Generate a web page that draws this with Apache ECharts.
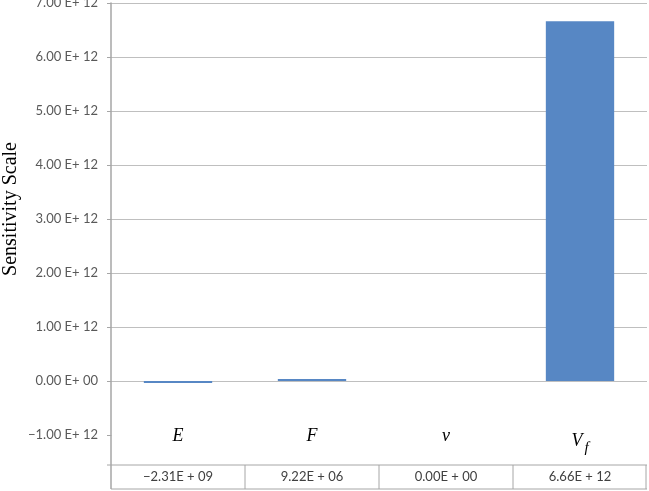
<!DOCTYPE html>
<html>
<head>
<meta charset="utf-8">
<script src="https://cdn.jsdelivr.net/npm/echarts@6/dist/echarts.min.js"></script>
<style>
    html, body { margin: 0; padding: 0; background: #fff; }
    #chart { width: 649px; height: 491px; }
</style>
</head>
<body>
<div id="chart"></div>
<script>
    // data
    const categories = ['E', 'F', 'ν', 'V_f'];
    const sensitivity = [-2.31e9, 9.22e6, 0, 6.66e12];
    const yMin = -1e12;
    const yMax = 7e12;
    const yStep = 1e12;

    const barColor = '#5787c4';
    const lineGray = '#a6a6a6';
    const gridGray = '#bfbfbf';

    function sci(v) {
        if (v === 0) return { neg: false, m: '0.00', sign: '+', exp: '00' };
        let parts = Math.abs(v).toExponential(2).split('e');
        let e = parseInt(parts[1], 10);
        return { neg: v < 0, m: parts[0], sign: e < 0 ? '-' : '+', exp: String(Math.abs(e)).padStart(2, '0') };
    }
    function axisText(v) {
        let s = sci(v);
        return (s.neg ? '−' : '') + s.m + ' E' + s.sign + ' ' + s.exp;
    }
    function tableText(v) {
        let s = sci(v);
        return (s.neg ? '−' : '') + s.m + 'E ' + s.sign + ' ' + s.exp;
    }

    let chart = echarts.init(document.getElementById('chart'));
    let option = {
        animation: false,
        grid: { left: 111, right: 2, top: 3, bottom: 56, outerBoundsMode: 'none' },
        xAxis: {
            type: 'category',
            data: categories,
            axisLine: { show: false, onZero: false },
            axisTick: { show: false },
            axisLabel: {
                margin: -8,
                formatter: function (v) {
                    let p = v.split('_');
                    return p.length > 1 ? '{i|' + p[0] + '}{sub|' + p[1] + '}' : '{i|' + v + '}';
                },
                rich: {
                    i: { fontFamily: 'Liberation Serif', fontStyle: 'italic', fontSize: 18, color: '#000' },
                    sub: { fontFamily: 'Liberation Serif', fontStyle: 'italic', fontSize: 15, color: '#000', padding: [14, 0, 0, 2], verticalAlign: 'bottom' }
                }
            }
        },
        yAxis: {
            type: 'value',
            min: yMin,
            max: yMax,
            interval: yStep,
            name: 'Sensitivity Scale',
            nameLocation: 'middle',
            nameGap: 90,
            nameMoveOverlap: false,
            nameTextStyle: { fontFamily: 'Liberation Serif', fontSize: 20, color: '#000', padding: [0, 0, 0, 20] },
            axisLine: { show: true, lineStyle: { color: lineGray, width: 1.5 } },
            axisTick: { show: true, length: 4, lineStyle: { color: lineGray } },
            axisLabel: {
                margin: 13,
                fontFamily: 'Lato',
                fontSize: 13,
                color: '#595959',
                formatter: axisText
            },
            splitLine: {
                show: true,
                lineStyle: { color: ['transparent', gridGray, gridGray, gridGray, gridGray, gridGray, gridGray, gridGray, gridGray] }
            }
        },
        series: [{
            type: 'bar',
            data: sensitivity,
            barWidth: '51%',
            barMinHeight: 2,
            itemStyle: {
                color: function (p) { return p.value === 0 ? 'transparent' : barColor; }
            }
        }]
    };
    chart.setOption(option);

    // data table under the plot, placed from the category axis
    let c0 = chart.convertToPixel({ xAxisIndex: 0 }, 0);
    let c1 = chart.convertToPixel({ xAxisIndex: 0 }, 1);
    let band = c1 - c0;
    let yBottomAxis = chart.convertToPixel({ yAxisIndex: 0 }, yMin);
    let tableTop = 465, tableBottom = 489;
    let left = c0 - band / 2;
    let right = left + band * categories.length;
    let graphics = [
        { type: 'line', shape: { x1: left, y1: yBottomAxis, x2: left, y2: tableBottom }, style: { stroke: lineGray, lineWidth: 1.5 } },
        { type: 'line', shape: { x1: left - 4, y1: tableTop, x2: right, y2: tableTop }, style: { stroke: lineGray, lineWidth: 1 } },
        { type: 'line', shape: { x1: left, y1: tableBottom, x2: right, y2: tableBottom }, style: { stroke: lineGray, lineWidth: 1 } },
        { type: 'line', shape: { x1: right - 1, y1: tableTop, x2: right - 1, y2: tableBottom }, style: { stroke: lineGray, lineWidth: 1 } }
    ];
    for (let i = 0; i < categories.length; i++) {
        let cx = chart.convertToPixel({ xAxisIndex: 0 }, i);
        if (i > 0) {
            graphics.push({ type: 'line', shape: { x1: cx - band / 2, y1: tableTop, x2: cx - band / 2, y2: tableBottom }, style: { stroke: lineGray, lineWidth: 1 } });
        }
        graphics.push({
            type: 'text', x: cx, y: (tableTop + tableBottom) / 2,
            style: { text: tableText(sensitivity[i]), fontFamily: 'Lato', fontSize: 13, fill: '#404040', align: 'center', verticalAlign: 'middle' }
        });
    }
    chart.setOption({ graphic: graphics });
</script>
</body>
</html>
